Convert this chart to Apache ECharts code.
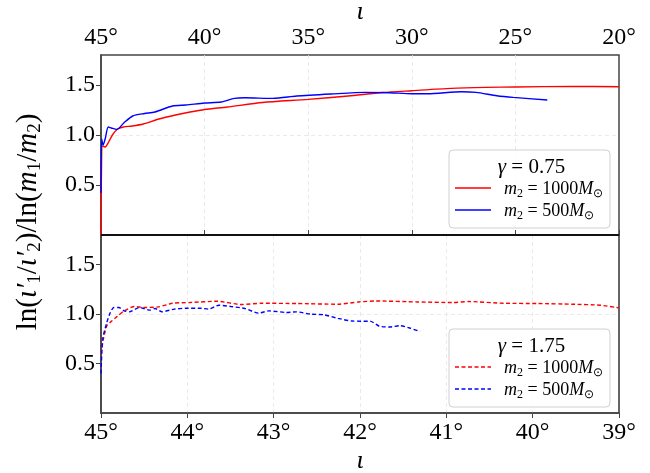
<!DOCTYPE html>
<html>
<head>
<meta charset="utf-8">
<script src="https://cdn.jsdelivr.net/npm/echarts@6/dist/echarts.min.js"></script>
<style>html,body{margin:0;padding:0;background:#fff}#c{width:650px;height:473px}</style>
</head>
<body>
<div id="c"></div>
<script>
// ---- data (inclination in degrees, ratio) ----
const topXTicks = [45, 40, 35, 30, 25, 20];
const bottomXTicks = [45, 44, 43, 42, 41, 40, 39];
const yTicks = [0.5, 1.0, 1.5];

const topRed = [[45,0],[44.99,0.42],[44.93,0.89],[44.8,0.88],[44.63,0.93],[44.45,1.0],[44.2,1.06],[43.92,1.08],[43.5,1.09],[42.96,1.11],[42.2,1.16],[41.4,1.2],[40.7,1.23],[40.0,1.255],[38.9,1.28],[37.2,1.325],[35,1.356],[33.07,1.39],[31.4,1.425],[30,1.443],[28.1,1.466],[26.4,1.476],[25,1.48],[22.25,1.486],[20,1.483]];
const topBlue = [[45,0.42],[44.97,0.96],[44.9,0.9],[44.8,0.96],[44.65,1.08],[44.5,1.07],[44.24,1.055],[43.9,1.12],[43.47,1.19],[42.9,1.215],[42.4,1.23],[41.55,1.29],[40.9,1.30],[40,1.32],[39.2,1.33],[38.56,1.366],[38.06,1.372],[36.7,1.366],[35.56,1.39],[33.9,1.41],[32.23,1.426],[31.07,1.423],[30,1.413],[29.24,1.413],[27.6,1.433],[26.9,1.426],[25.9,1.393],[25.1,1.376],[23.46,1.35]];
const bottomRed = [[45,0.6],[44.972,0.75],[44.932,0.883],[44.872,0.933],[44.812,0.977],[44.732,1.033],[44.612,1.077],[44.493,1.067],[44.333,1.073],[44.173,1.11],[43.973,1.117],[43.654,1.13],[43.374,1.097],[43.134,1.11],[42.735,1.107],[42.255,1.1],[42.016,1.123],[41.816,1.133],[41.336,1.123],[40.937,1.117],[40.737,1.127],[40.338,1.11],[39.938,1.107],[39.539,1.1],[39.219,1.09],[39.0,1.063]];
const bottomBlue = [[45,0.4],[44.98,0.75],[44.932,0.917],[44.892,1.017],[44.852,1.067],[44.792,1.067],[44.732,1.033],[44.672,1.023],[44.553,1.067],[44.433,1.04],[44.373,1.057],[44.293,1.023],[44.153,1.05],[44.013,1.06],[43.853,1.06],[43.753,1.05],[43.634,1.09],[43.494,1.077],[43.334,1.057],[43.174,1.01],[43.054,1.033],[42.855,1.017],[42.735,1.023],[42.575,1.0],[42.415,0.993],[42.255,0.957],[42.095,0.93],[41.876,0.927],[41.776,0.877],[41.656,0.87],[41.536,0.883],[41.416,0.857],[41.304,0.823]];

const legendTop = {title: '0.75', mass: ['1000', '500']};
const legendBottom = {title: '1.75', mass: ['1000', '500']};

// ---- chart ----
const FONT = 'Liberation Serif';
const chart = echarts.init(document.getElementById('c'), null, {renderer: 'canvas'});
const gridLine = {show: true, showMinLine: false, showMaxLine: false, lineStyle: {color: '#e4e4e4', type: [4, 3], width: 0.8}};
const axisLineStyle = {color: '#444', width: 1.5};
function yAxis(gridIndex) {
  return {
    type: 'value', gridIndex, min: 0, max: 1.8, interval: 0.5,
    axisLine: {show: true, lineStyle: axisLineStyle},
    axisTick: {show: true, inside: false, length: 5, lineStyle: {color: '#444'}, customValues: yTicks},
    axisLabel: {fontFamily: FONT, fontSize: 24, color: '#000', margin: 6, customValues: yTicks,
      formatter: v => (yTicks.indexOf(+(+v).toFixed(2)) >= 0 ? (+v).toFixed(1) : '')},
    splitLine: gridLine
  };
}
const rich = {
  i: {fontFamily: FONT, fontStyle: 'italic', fontSize: 18, lineHeight: 22},
  n: {fontFamily: FONT, fontSize: 18, lineHeight: 22},
  s: {fontFamily: FONT, fontSize: 12, lineHeight: 22, verticalAlign: 'bottom', padding: [7, 0, 0, 0]},
  t: {fontFamily: FONT, fontSize: 21, lineHeight: 24},
  ti: {fontFamily: FONT, fontStyle: 'italic', fontSize: 21, lineHeight: 24}
};
const richY = {
  n: {fontFamily: FONT, fontSize: 29, lineHeight: 34},
  i: {fontFamily: FONT, fontStyle: 'italic', fontSize: 29, lineHeight: 34},
  s: {fontFamily: FONT, fontSize: 19, lineHeight: 34, verticalAlign: 'bottom', padding: [9, 0, 0, 0]}
};
function legendGraphics(lg, top, dashed) {
  const x0 = 449, w = 161, h = 78;
  const els = [
    {type: 'rect', shape: {x: x0, y: top, width: w, height: h, r: 4},
     style: {fill: 'rgba(255,255,255,0.85)', stroke: '#d0d0d0', lineWidth: 1}, z: 100},
    {type: 'text', x: x0 + w / 2 + 2, y: top + 17,
     style: {text: '{ti|γ}{t| = ' + lg.title + '}', rich, fill: '#000', align: 'center', verticalAlign: 'middle'}, z: 101}
  ];
  const colors = ['#ff0000', '#0000ff'];
  lg.mass.forEach((m, i) => {
    const yy = top + 38 + i * 22;
    els.push({type: 'line', shape: {x1: x0 + 6, y1: yy, x2: x0 + 42, y2: yy},
      style: {stroke: colors[i], lineWidth: 1.3, lineDash: dashed ? [4, 2.5] : null}, z: 101});
    els.push({type: 'text', x: x0 + 55, y: yy + 1,
      style: {text: '{i|m}{s|2}{n| = ' + m + '}{i|M}{s|⊙}', rich, fill: '#000', align: 'left', verticalAlign: 'middle'}, z: 101});
  });
  return els;
}

const option = {
  animation: false,
  backgroundColor: '#fff',
  grid: [
    {left: 101, right: 31, top: 55, height: 180, outerBoundsMode: 'none', containLabel: false, show: true, borderColor: '#444', borderWidth: 1.5, backgroundColor: 'transparent'},
    {left: 101, right: 31, top: 235, height: 178, outerBoundsMode: 'none', containLabel: false, show: true, borderColor: '#333', borderWidth: 1.5, backgroundColor: 'transparent'}
  ],
  xAxis: [
    {type: 'value', gridIndex: 0, position: 'top', inverse: true, min: 20, max: 45, interval: 5,
     name: 'ι', nameLocation: 'middle', nameGap: 23, nameTextStyle: {fontFamily: FONT, fontSize: 26, fontStyle: 'italic', color: '#000'},
     axisLine: {show: true, lineStyle: axisLineStyle},
     axisTick: {show: true, length: 5, lineStyle: {color: '#444'}},
     axisLabel: {fontFamily: FONT, fontSize: 24, color: '#000', margin: 5, formatter: v => v + '°'},
     splitLine: gridLine},
    {type: 'value', gridIndex: 1, position: 'bottom', inverse: true, min: 39, max: 45, interval: 1,
     name: 'ι', nameLocation: 'middle', nameGap: 35, nameTextStyle: {fontFamily: FONT, fontSize: 26, fontStyle: 'italic', color: '#000'},
     axisLine: {show: true, lineStyle: axisLineStyle},
     axisTick: {show: true, length: 5, lineStyle: {color: '#444'}},
     axisLabel: {fontFamily: FONT, fontSize: 24, color: '#000', margin: 8, formatter: v => v + '°'},
     splitLine: gridLine}
  ],
  yAxis: [yAxis(0), yAxis(1)],
  series: [
    {type: 'line', xAxisIndex: 0, yAxisIndex: 0, data: topRed, showSymbol: false, smooth: 0.25, lineStyle: {color: '#ff0000', width: 1.4}, z: 3},
    {type: 'line', xAxisIndex: 0, yAxisIndex: 0, data: topBlue, showSymbol: false, smooth: 0.25, lineStyle: {color: '#0000ff', width: 1.4}, z: 4},
    {type: 'line', xAxisIndex: 1, yAxisIndex: 1, data: bottomRed, showSymbol: false, smooth: 0.2, lineStyle: {color: '#ff0000', width: 1.4, type: [4, 2.5]}, z: 3},
    {type: 'line', xAxisIndex: 1, yAxisIndex: 1, data: bottomBlue, showSymbol: false, smooth: 0.2, lineStyle: {color: '#0000ff', width: 1.4, type: [4, 2.5]}, z: 4}
  ],
  graphic: [
    {type: 'line', shape: {x1: 101, y1: 235, x2: 619, y2: 235}, style: {stroke: '#111', lineWidth: 2}, z: 50},
    {type: 'text', x: 28, y: 222, rotation: Math.PI / 2,
     style: {text: '{n|ln(}{i|ι′}{s|1}{n|/}{i|ι′}{s|2}{n|)/ln(}{i|m}{s|1}{n|/}{i|m}{s|2}{n|)}', rich: richY, fill: '#000', align: 'center', verticalAlign: 'middle'}, z: 60}
  ].concat(legendGraphics(legendTop, 150, false)).concat(legendGraphics(legendBottom, 329, true))
};
chart.setOption(option);
</script>
</body>
</html>
